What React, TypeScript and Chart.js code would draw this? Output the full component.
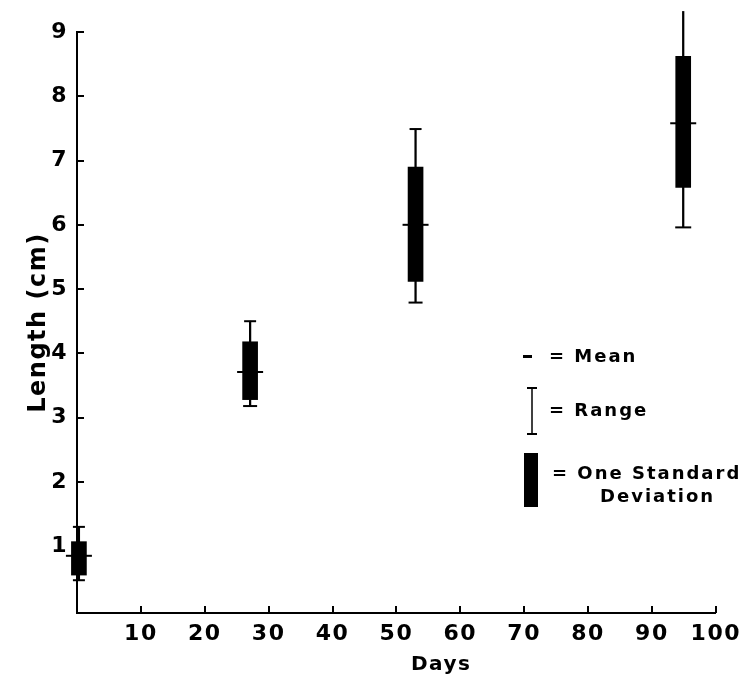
import React, { useEffect, useRef } from "react";
import { Chart, registerables } from "chart.js";

Chart.register(...registerables);

// ---- data ----
const days = [0.3, 27.1, 53.0, 94.9];
const means = [0.85, 3.71, 6.0, 7.58];
const sdLow = [0.55, 3.28, 5.12, 6.58];
const sdHigh = [1.07, 4.18, 6.9, 8.62];
const rangeMin = [0.47, 3.18, 4.79, 5.96];
const rangeMax = [1.3, 4.5, 7.49, 9.32];

const xTickValues = [10, 20, 30, 40, 50, 60, 70, 80, 90, 100];
const yTickValues = [1, 2, 3, 4, 5, 6, 7, 8, 9];

const xTitle = "Days";
const yTitle = "Length (cm)";
const legendMean = "= Mean";
const legendRange = "= Range";
const legendSd1 = "= One Standard";
const legendSd2 = "Deviation";

const FONT = '"DejaVu Sans", sans-serif';

const decor = {
  id: "decor",
  afterInit(chart: any) {
    chart.ctx.letterSpacing = "1.5px";
  },
  afterDraw(chart: any) {
    const { ctx, chartArea: a, scales } = chart;
    const x = scales.x;
    const y = scales.y;
    ctx.save();
    ctx.strokeStyle = "#000";
    ctx.fillStyle = "#000";
    ctx.lineWidth = 2;
    ctx.beginPath();
    for (const v of yTickValues) {
      const py = Math.round(y.getPixelForValue(v));
      ctx.moveTo(a.left, py);
      ctx.lineTo(a.left + 7, py);
    }
    for (const v of xTickValues) {
      const px = Math.round(x.getPixelForValue(v));
      ctx.moveTo(px, a.bottom);
      ctx.lineTo(px, a.bottom - 7);
    }
    ctx.stroke();

    // x-axis title
    ctx.font = `bold 20px ${FONT}`;
    (ctx as any).letterSpacing = "1.5px";
    ctx.textAlign = "left";
    ctx.textBaseline = "middle";
    ctx.fillText(xTitle, 411, 665);

    // legend
    ctx.fillRect(523, 355, 9, 3);
    ctx.lineWidth = 1.5;
    ctx.beginPath();
    ctx.moveTo(532, 388);
    ctx.lineTo(532, 434);
    ctx.stroke();
    ctx.lineWidth = 2;
    ctx.beginPath();
    ctx.moveTo(527, 388);
    ctx.lineTo(537, 388);
    ctx.moveTo(527, 434);
    ctx.lineTo(537, 434);
    ctx.stroke();
    ctx.fillRect(524, 453, 14, 54);

    ctx.font = `bold 18px ${FONT}`;
    (ctx as any).letterSpacing = "2px";
    ctx.fillText(legendMean, 549, 357);
    ctx.fillText(legendRange, 549, 411);
    ctx.fillText(legendSd1, 552, 474);
    ctx.fillText(legendSd2, 600, 497);
    ctx.restore();
  },
};

export default function App() {
  const ref = useRef<HTMLCanvasElement | null>(null);

  useEffect(() => {
    if (!ref.current) return;
    const rangeData = days.map((d, i) => ({ x: d, y: [rangeMin[i], rangeMax[i]] }));
    const sdData = days.map((d, i) => ({ x: d, y: [sdLow[i], sdHigh[i]] }));
    const meanData = days.map((d, i) => ({ x: d, y: means[i] }));
    const capData = [
      ...days.map((d, i) => ({ x: d, y: rangeMin[i] })),
      ...days.map((d, i) => ({ x: d, y: rangeMax[i] })),
    ];
    const capRadius = [6, 7, 7, 8, 6, 6, 6, 1.5];

    const chart = new Chart(ref.current, {
      type: "bar",
      data: {
        datasets: [
          {
            type: "bar",
            label: "Range",
            data: rangeData as any,
            backgroundColor: "#000",
            borderWidth: 0,
            barThickness: 1.6,
            grouped: false,
            clip: false as any,
            order: 3,
          } as any,
          {
            type: "bar",
            label: "One Standard Deviation",
            data: sdData as any,
            backgroundColor: "#000",
            borderWidth: 0,
            barThickness: 15,
            grouped: false,
            clip: false as any,
            order: 2,
          } as any,
          {
            type: "scatter",
            label: "Range ends",
            data: capData,
            pointStyle: "line",
            pointRadius: capRadius,
            borderColor: "#000",
            borderWidth: 2,
            clip: false as any,
            order: 1,
          } as any,
          {
            type: "scatter",
            label: "Mean",
            data: meanData,
            pointStyle: "line",
            pointRadius: 13,
            borderColor: "#000",
            borderWidth: 2,
            clip: false as any,
            order: 0,
          } as any,
        ],
      },
      options: {
        animation: false,
        responsive: false,
        events: [],
        layout: { padding: { top: 32, right: 29, left: 0, bottom: 0 } },
        plugins: {
          legend: { display: false },
          tooltip: { enabled: false },
        },
        scales: {
          x: {
            type: "linear",
            min: 0,
            max: 100,
            offset: false,
            grid: { display: false, drawTicks: false },
            border: { display: true, color: "#000", width: 2 },
            afterBuildTicks: (s: any) => {
              s.ticks = xTickValues.map((v) => ({ value: v }));
            },
            afterFit: (s: any) => {
              s.height = 66;
            },
            ticks: {
              color: "#000",
              font: { family: FONT, size: 22, weight: "bold" },
              padding: 8,
              maxRotation: 0,
              autoSkip: false,
              callback: (v: any) => String(v),
            },
          },
          y: {
            type: "linear",
            min: -0.04,
            max: 9,
            grid: { display: false, drawTicks: false },
            border: { display: true, color: "#000", width: 2 },
            afterBuildTicks: (s: any) => {
              s.ticks = yTickValues.map((v) => ({ value: v }));
            },
            afterFit: (s: any) => {
              s.width = 77;
            },
            ticks: {
              color: "#000",
              font: { family: FONT, size: 22, weight: "bold" },
              padding: 9,
              callback: (v: any) => String(v),
            },
            title: {
              display: true,
              text: yTitle,
              color: "#000",
              font: { family: FONT, size: 24, weight: "bold" },
              padding: { top: 24, bottom: 0 },
            },
          },
        },
      },
      plugins: [decor],
    } as any);
    return () => chart.destroy();
  }, []);

  return (
    <div style={{ position: "fixed", left: 0, top: 0, width: 749, height: 679, background: "#fff" }}>
      <canvas ref={ref} width={749} height={679} style={{ display: "block", width: 749, height: 679 }} />
    </div>
  );
}
